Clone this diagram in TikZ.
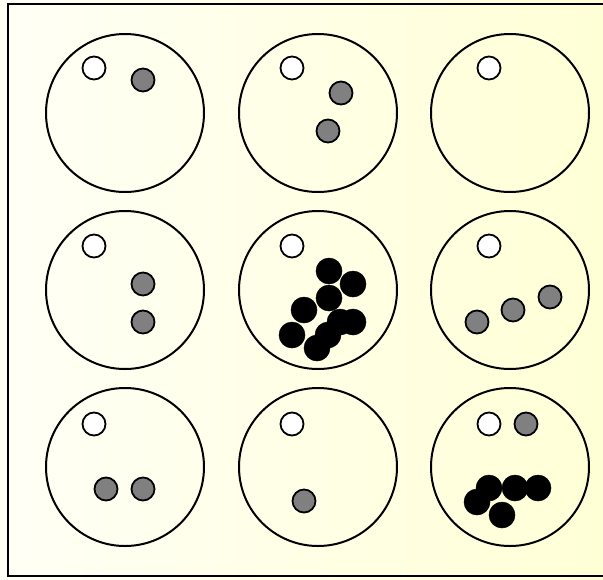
\documentclass[tikz,border=0pt]{standalone}
\usetikzlibrary{shapes}
\definecolor{paleleft}{RGB}{255,255,246}
\definecolor{paleright}{RGB}{255,255,214}
\tikzset{
  big_circle/.style = {circle, draw=black, line width=2pt,
    minimum size=158pt, inner sep=0pt},% grand cercle
  white_dot/.style = {circle, draw=black, fill=white, line width=1.8pt,
    minimum size=23pt, inner sep=0pt},% petit rond blanc
  grey_dot/.style = {circle, draw=black, fill=gray, line width=1.8pt,
    minimum size=23pt, inner sep=0pt},% petit rond gris
  black_dot/.style = {circle, draw=black, fill=black, line width=0.5pt,
    minimum size=26pt, inner sep=0pt}% petit rond noir
}
\begin{document}
\begin{tikzpicture}[x=1pt, y=-1pt]
      \shade[left color=paleleft, right color=paleright] (0,0) rectangle (603,579);
      \useasboundingbox (0,0) rectangle (603,579);
      \draw[line width=2pt] (8,4) rectangle (610,576);
      % les neuf grands cercles
      \foreach \r/\y in {1/113, 2/290, 3/467}
        \foreach \c/\x in {1/125, 2/318, 3/510}
          \node [big_circle] (box\r\c) at (\x,\y) {};
      % rangee 1
      \node [white_dot] (w11) at (94,68) {};
      \node [grey_dot] (g11a) at (143,80) {};
      \node [white_dot] (w12) at (292,68) {};
      \node [grey_dot] (g12a) at (341,93) {};
      \node [grey_dot] (g12b) at (328,131) {};
      \node [white_dot] (w13) at (489,68) {};
      % rangee 2
      \node [white_dot] (w21) at (94,246) {};
      \node [grey_dot] (g21a) at (143,284) {};
      \node [grey_dot] (g21b) at (143,322) {};
      \node [white_dot] (w22) at (292,246) {};
      \node [black_dot] (b22a) at (329,271) {};
      \node [black_dot] (b22b) at (353,284) {};
      \node [black_dot] (b22c) at (329,298) {};
      \node [black_dot] (b22d) at (304,310) {};
      \node [black_dot] (b22e) at (292,335) {};
      \node [black_dot] (b22f) at (340,322) {};
      \node [black_dot] (b22g) at (353,322) {};
      \node [black_dot] (b22h) at (328,335) {};
      \node [black_dot] (b22i) at (317,348) {};
      \node [white_dot] (w23) at (489,246) {};
      \node [grey_dot] (g23a) at (477,322) {};
      \node [grey_dot] (g23b) at (513,310) {};
      \node [grey_dot] (g23c) at (550,297) {};
      % rangee 3
      \node [white_dot] (w31) at (94,424) {};
      \node [grey_dot] (g31a) at (106,489) {};
      \node [grey_dot] (g31b) at (143,489) {};
      \node [white_dot] (w32) at (292,424) {};
      \node [grey_dot] (g32a) at (304,501) {};
      \node [white_dot] (w33) at (489,424) {};
      \node [grey_dot] (g33a) at (526,424) {};
      \node [black_dot] (b33a) at (489,488) {};
      \node [black_dot] (b33b) at (515,488) {};
      \node [black_dot] (b33c) at (538,488) {};
      \node [black_dot] (b33d) at (477,502) {};
      \node [black_dot] (b33e) at (502,515) {};
\end{tikzpicture}
\end{document}
